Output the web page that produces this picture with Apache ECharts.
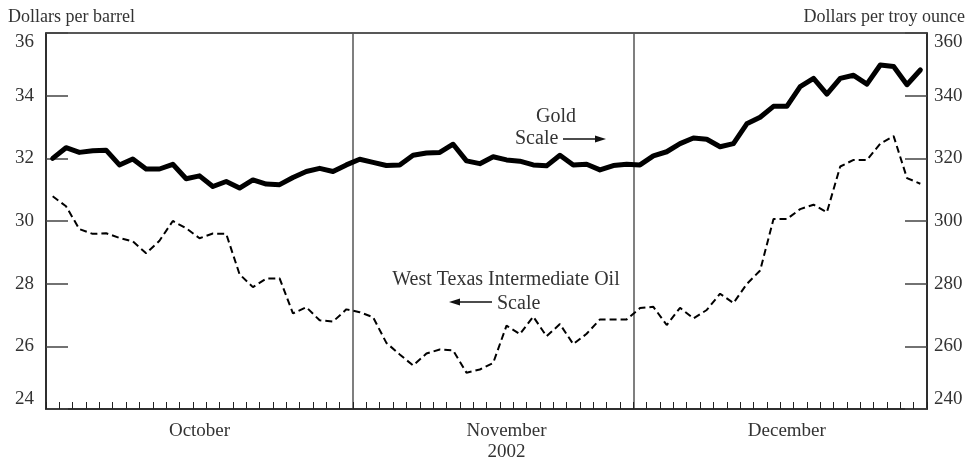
<!DOCTYPE html>
<html>
<head>
<meta charset="utf-8">
<script src="https://cdn.jsdelivr.net/npm/echarts@6/dist/echarts.min.js"></script>
<style>
html,body{margin:0;padding:0;background:#fff;}
#chart{width:971px;height:463px;}
</style>
</head>
<body>
<div id="chart"></div>
<script>
// Trading days (weekdays) of each month, 2002
var octDays = [1,2,3,4,7,8,9,10,11,14,15,16,17,18,21,22,23,24,25,28,29,30,31];
var novDays = [1,4,5,6,7,8,11,12,13,14,15,18,19,20,21,22,25,26,27,28,29];
var decDays = [2,3,4,5,6,9,10,11,12,13,16,17,18,19,20,23,24,25,26,27,30,31];

// Gold, dollars per troy ounce (right scale)
var goldOct = [320.0,323.4,321.9,322.4,322.6,317.9,319.8,316.6,316.6,318.1,313.5,314.4,311.0,312.6,310.5,313.1,311.8,311.6,313.9,315.8,316.8,315.8,317.9];
var goldNov = [319.7,318.7,317.7,317.9,321.0,321.7,321.9,324.5,319.2,318.3,320.5,319.5,319.1,317.9,317.6,321.0,317.9,318.1,316.3,317.7,318.1];
var goldDec = [317.9,320.8,322.1,324.7,326.5,326.1,323.7,324.7,331.0,333.1,336.6,336.6,342.9,345.5,340.5,345.5,346.5,343.7,349.8,349.3,343.5,348.2];

// West Texas Intermediate oil, dollars per barrel (left scale)
var oilOct = [30.79,30.47,29.74,29.59,29.61,29.46,29.35,28.97,29.37,30.00,29.77,29.45,29.60,29.59,28.30,27.89,28.16,28.17,27.05,27.25,26.83,26.79,27.18];
var oilNov = [27.09,26.93,26.11,25.74,25.39,25.77,25.90,25.87,25.16,25.26,25.47,26.66,26.39,26.95,26.32,26.71,26.07,26.40,26.86,26.86,26.86];
var oilDec = [27.22,27.26,26.68,27.23,26.89,27.16,27.68,27.38,27.99,28.42,30.06,30.06,30.38,30.52,30.28,31.74,31.95,31.95,32.47,32.71,31.37,31.19];

var leftTicks = {min:24, max:36, interval:2};
var rightTicks = {min:240, max:360, interval:20};
var monthNames = ['October','November\n2002','December'];

var categories = [];
octDays.forEach(function(d){categories.push('2002-10-'+(d<10?'0':'')+d);});
novDays.forEach(function(d){categories.push('2002-11-'+(d<10?'0':'')+d);});
decDays.forEach(function(d){categories.push('2002-12-'+(d<10?'0':'')+d);});
var gold = goldOct.concat(goldNov, goldDec);
var oil = oilOct.concat(oilNov, oilDec);

var n1 = octDays.length, n2 = novDays.length, n3 = decDays.length;
var labelIdx = [Math.floor(n1/2), n1 + Math.ceil(n2/2), n1 + n2 + Math.floor(n3/2)];
var sepIdx = [n1, n1 + n2];

var FONT = 'Liberation Serif';
var TXT = '#333';
var AX = '#222';

var chart = echarts.init(document.getElementById('chart'), null, {renderer:'canvas'});

function arrow(x1, x2, y) {
  var dir = x2 > x1 ? 1 : -1;
  return [
    {type:'line', shape:{x1:x1, y1:y, x2:x2 - dir*8, y2:y}, style:{stroke:'#111', lineWidth:1.5}},
    {type:'polygon', shape:{points:[[x2, y],[x2 - dir*11, y-3.5],[x2 - dir*11, y+3.5]]}, style:{fill:'#111'}}
  ];
}

var option = {
  backgroundColor:'#fff',
  animation:false,
  grid:{left:46, right:44, top:33, bottom:50, show:true, borderColor:AX, borderWidth:1.5},
  xAxis:{
    type:'category', data:categories, boundaryGap:true,
    axisLine:{show:true, lineStyle:{color:AX, width:1.5}},
    axisTick:{show:true, inside:true, length:7, interval:0, lineStyle:{color:AX, width:1}},
    axisLabel:{
      interval:function(i){return labelIdx.indexOf(i) >= 0;},
      formatter:function(v, i){var k = labelIdx.indexOf(i); return k >= 0 ? monthNames[k] : '';},
      fontFamily:FONT, fontSize:19, color:TXT, margin:12, lineHeight:21
    },
    splitLine:{show:true, interval:function(i){return sepIdx.indexOf(i) >= 0;}, lineStyle:{color:'#555', width:1.5}}
  },
  yAxis:[
    {type:'value', position:'left', min:leftTicks.min, max:leftTicks.max, interval:leftTicks.interval,
     axisLine:{show:true, lineStyle:{color:AX, width:1.5}},
     axisTick:{show:true, inside:true, length:22, lineStyle:{color:'#444', width:1.5}},
     axisLabel:{fontFamily:FONT, fontSize:19, color:TXT, margin:12, verticalAlignMaxLabel:'top', verticalAlignMinLabel:'bottom'},
     splitLine:{show:false}},
    {type:'value', position:'right', min:rightTicks.min, max:rightTicks.max, interval:rightTicks.interval,
     axisLine:{show:true, lineStyle:{color:AX, width:1.5}},
     axisTick:{show:true, inside:true, length:22, lineStyle:{color:'#444', width:1.5}},
     axisLabel:{fontFamily:FONT, fontSize:19, color:TXT, margin:7, verticalAlignMaxLabel:'top', verticalAlignMinLabel:'bottom'},
     splitLine:{show:false}}
  ],
  series:[
    {name:'West Texas Intermediate Oil', type:'line', yAxisIndex:0, data:oil, symbol:'none', smooth:false,
     lineStyle:{color:'#000', width:2, type:[7,4]}, z:3},
    {name:'Gold', type:'line', yAxisIndex:1, data:gold, symbol:'none', smooth:false,
     lineStyle:{color:'#000', width:5, join:'round', cap:'round'}, z:4}
  ],
  graphic:[
    {type:'text', left:8, top:8, style:{text:'Dollars per barrel', font:'18px "Liberation Serif"', fill:TXT}},
    {type:'text', right:6, top:8, style:{text:'Dollars per troy ounce', font:'18px "Liberation Serif"', fill:TXT}},
    {type:'text', x:556, y:117, style:{text:'Gold', font:'20px "Liberation Serif"', fill:TXT, align:'center', verticalAlign:'middle'}},
    {type:'text', x:515, y:139, style:{text:'Scale', font:'20px "Liberation Serif"', fill:TXT, align:'left', verticalAlign:'middle'}},
    {type:'group', children:arrow(563, 606, 139)},
    {type:'text', x:506, y:280, style:{text:'West Texas Intermediate Oil', font:'20px "Liberation Serif"', fill:TXT, align:'center', verticalAlign:'middle'}},
    {type:'text', x:497, y:304, style:{text:'Scale', font:'20px "Liberation Serif"', fill:TXT, align:'left', verticalAlign:'middle'}},
    {type:'group', children:arrow(492, 449, 302)}
  ]
};
chart.setOption(option);
</script>
</body>
</html>
